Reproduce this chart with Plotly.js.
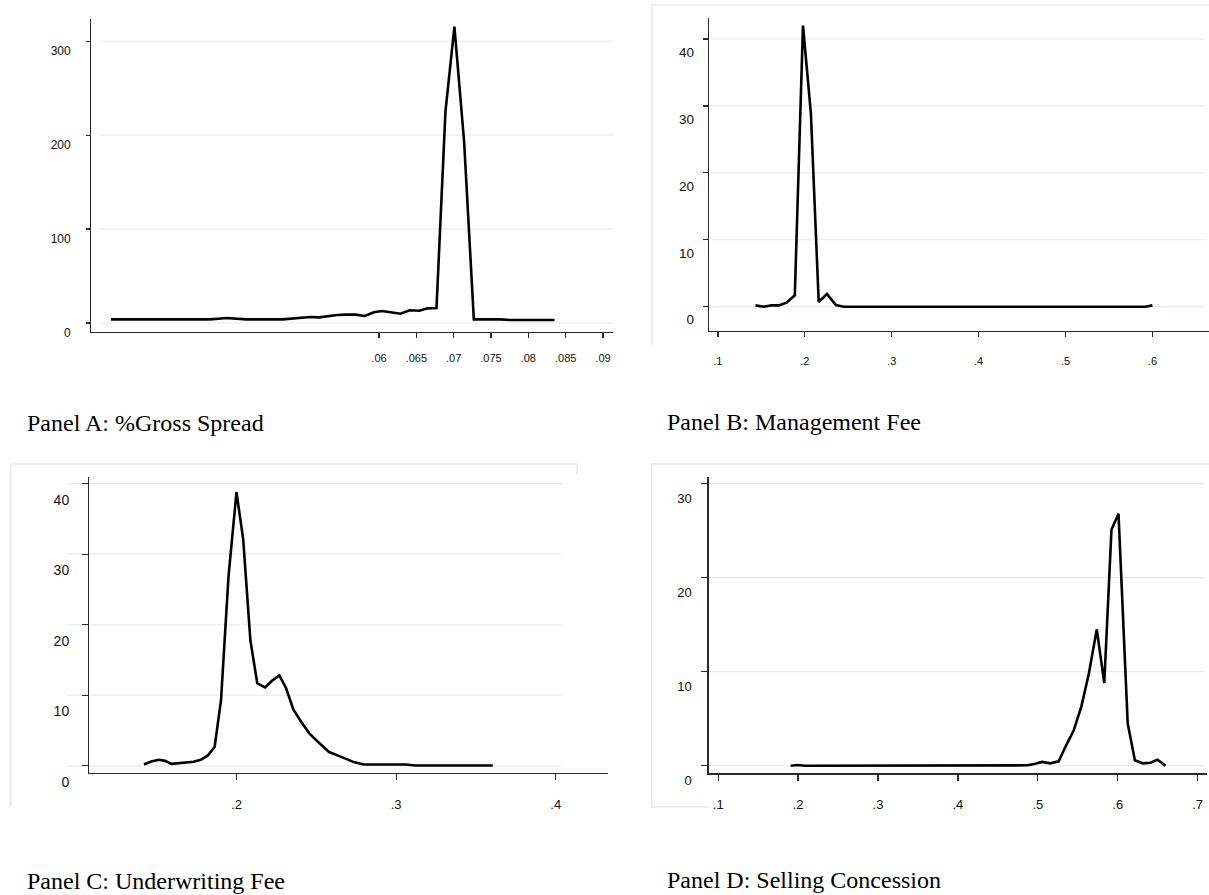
<!DOCTYPE html>
<html>
<head>
<meta charset="utf-8">
<script src="https://cdn.plot.ly/plotly-3.0.1.min.js"></script>
<style>
html,body{margin:0;padding:0;background:#fff;}
#chart{width:1209px;height:895px;}
</style>
</head>
<body>
<div id="chart"></div>
<script>
// ---------- data ----------
// Panel A: %Gross Spread
const spreadX = [0.0241, 0.0374, 0.0396, 0.0422, 0.0471, 0.0483, 0.0495, 0.0508, 0.0520, 0.0544, 0.0556, 0.0569, 0.0581, 0.0593, 0.0604, 0.0617, 0.0629, 0.0641, 0.0654, 0.0665, 0.0677, 0.0689, 0.0701, 0.0714, 0.0727, 0.0763, 0.0775, 0.0835];
const spreadY = [3.9, 3.9, 5.3, 3.9, 3.9, 4.6, 6.0, 6.4, 6.0, 8.5, 8.9, 8.9, 7.5, 11.4, 12.8, 11.4, 9.9, 13.5, 13.1, 15.6, 16.0, 225, 315.6, 193, 3.9, 3.9, 3.2, 3.2];
const spreadXTicks = [0.06, 0.065, 0.07, 0.075, 0.08, 0.085, 0.09];
const spreadXLabels = [".06", ".065", ".07", ".075", ".08", ".085", ".09"];
const spreadYTicks = [0, 100, 200, 300];
const spreadYLabels = ["0", "100", "200", "300"];

// Panel B: Management Fee
const mgmtX = [0.1432, 0.1527, 0.1617, 0.1700, 0.1790, 0.1885, 0.1979, 0.2070, 0.2160, 0.2255, 0.2358, 0.2449, 0.5918, 0.6000];
const mgmtY = [0.2, 0.0, 0.2, 0.2, 0.6, 1.7, 42.0, 28.9, 0.7, 1.9, 0.25, 0.0, 0.0, 0.2];
const mgmtXTicks = [0.1, 0.2, 0.3, 0.4, 0.5, 0.6];
const mgmtXLabels = [".1", ".2", ".3", ".4", ".5", ".6"];
const mgmtYTicks = [0, 10, 20, 30, 40];
const mgmtYLabels = ["0", "10", "20", "30", "40"];

// Panel C: Underwriting Fee
const uwX = [0.1420, 0.1465, 0.1514, 0.1552, 0.1594, 0.1664, 0.1731, 0.1776, 0.1821, 0.1863, 0.1903, 0.1950, 0.2000, 0.2042, 0.2087, 0.2130, 0.2179, 0.2224, 0.2269, 0.2311, 0.2356, 0.2406, 0.2456, 0.2511, 0.2580, 0.2660, 0.2735, 0.2797, 0.2909, 0.2984, 0.3059, 0.3121, 0.3171, 0.3208, 0.3606];
const uwY = [0.19, 0.62, 0.85, 0.7, 0.28, 0.43, 0.57, 0.85, 1.47, 2.66, 9.3, 26.9, 38.8, 32.1, 17.8, 11.7, 11.1, 12.1, 12.8, 11.0, 8.0, 6.2, 4.6, 3.4, 1.95, 1.23, 0.52, 0.19, 0.19, 0.28, 0.19, 0.05, 0.1, 0.05, 0.05];
const uwXTicks = [0.2, 0.3, 0.4];
const uwXLabels = [".2", ".3", ".4"];
const uwYTicks = [0, 10, 20, 30, 40];
const uwYLabels = ["0", "10", "20", "30", "40"];

// Panel D: Selling Concession
const scX = [0.1907, 0.1992, 0.2086, 0.4779, 0.4873, 0.4968, 0.5053, 0.5157, 0.5261, 0.5355, 0.5450, 0.5544, 0.5639, 0.5738, 0.5832, 0.5922, 0.6010, 0.6125, 0.6215, 0.6314, 0.6409, 0.6498, 0.6598];
const scY = [0.0, 0.07, 0.0, 0.0, 0.04, 0.2, 0.4, 0.25, 0.46, 2.17, 3.77, 6.26, 9.8, 14.5, 8.8, 25.1, 26.8, 4.5, 0.57, 0.25, 0.32, 0.64, 0.0];
const scXTicks = [0.1, 0.2, 0.3, 0.4, 0.5, 0.6, 0.7];
const scXLabels = [".1", ".2", ".3", ".4", ".5", ".6", ".7"];
const scYTicks = [0, 10, 20, 30];
const scYLabels = ["0", "10", "20", "30"];

const captions = ["Panel A: %Gross Spread", "Panel B: Management Fee", "Panel C: Underwriting Fee", "Panel D: Selling Concession"];

// ---------- layout helpers ----------
const W = 1209, H = 895;
const fx = p => p / W;
const fy = p => 1 - p / H;
const SANS = "Liberation Sans, Arial, sans-serif";
const SERIF = "Liberation Serif, Times New Roman, serif";
const GRID = "#e4ecec";
const FRAME = "#e6eaea";
const AX = "#2a2a2a";

const lineStyle = {color: "#000", width: 2.6};

const traces = [
  {x: spreadX, y: spreadY, xaxis: "x", yaxis: "y", type: "scatter", mode: "lines", line: lineStyle, hoverinfo: "skip"},
  {x: mgmtX, y: mgmtY, xaxis: "x2", yaxis: "y2", type: "scatter", mode: "lines", line: lineStyle, hoverinfo: "skip"},
  {x: uwX, y: uwY, xaxis: "x3", yaxis: "y3", type: "scatter", mode: "lines", line: lineStyle, hoverinfo: "skip"},
  {x: scX, y: scY, xaxis: "x4", yaxis: "y4", type: "scatter", mode: "lines", line: lineStyle, hoverinfo: "skip"}
];

function xax(dom, range, vals, labels, anchor, size, standoff, ticklen) {
  return {
    domain: [fx(dom[0]), fx(dom[1])], range: range, anchor: anchor,
    tickmode: "array", tickvals: vals, ticktext: labels,
    showline: true, linecolor: AX, linewidth: 1.3,
    ticks: "outside", ticklen: ticklen, tickwidth: 1.2, tickcolor: AX,
    showgrid: false, zeroline: false,
    tickfont: {family: SANS, size: size, color: "#111"},
    ticklabelstandoff: standoff, fixedrange: true
  };
}
function yax(dom, range, vals, labels, anchor, size, standoff, shift, ticklen) {
  return {
    domain: [fy(dom[1]), fy(dom[0])], range: range, anchor: anchor,
    tickmode: "array", tickvals: vals, ticktext: labels,
    showline: true, linecolor: AX, linewidth: 1.3,
    ticks: "outside", ticklen: ticklen, tickwidth: 1.2, tickcolor: AX,
    showgrid: false, zeroline: false,
    tickfont: {family: SANS, size: size, color: "#111"},
    ticklabelstandoff: standoff, ticklabelshift: shift, fixedrange: true
  };
}

const shapes = [];
function grid(yref, vals, x0, x1) {
  vals.forEach(v => shapes.push({type: "line", xref: "paper", yref: yref, x0: fx(x0), x1: fx(x1), y0: v, y1: v,
    line: {color: GRID, width: 1.2}, layer: "below"}));
}
function seg(x0, y0, x1, y1) {
  shapes.push({type: "line", xref: "paper", yref: "paper", x0: fx(x0), x1: fx(x1), y0: fy(y0), y1: fy(y1),
    line: {color: FRAME, width: 1.5}, layer: "below"});
}
grid("y", spreadYTicks, 100, 613);
grid("y2", mgmtYTicks, 711, 1205);
grid("y3", uwYTicks, 67, 563);
grid("y4", scYTicks, 709, 1204);
// light frames around panels B, C, D
seg(652, 5, 1209, 5); seg(652, 5, 652, 345);
seg(10.7, 464, 577, 464); seg(10.7, 464, 10.7, 807); seg(577, 464, 577, 475);
seg(651.7, 464, 1209, 464); seg(651.7, 464, 651.7, 807); seg(651.7, 807, 708.7, 807);

const capPos = [[24.6, 423], [665, 422], [24.6, 881], [665, 880]];
const annotations = captions.map((t, i) => ({
  text: t, xref: "paper", yref: "paper", x: fx(capPos[i][0]), y: fy(capPos[i][1]),
  xanchor: "left", yanchor: "middle", showarrow: false,
  font: {family: SERIF, size: 24, color: "#000"}
}));

const layout = {
  width: W, height: H, margin: {l: 0, r: 0, t: 0, b: 0},
  paper_bgcolor: "#fff", plot_bgcolor: "rgba(0,0,0,0)", showlegend: false,
  xaxis:  xax([91.4, 613], [0.02148, 0.09134], spreadXTicks, spreadXLabels, "y", 11, 11, 5),
  yaxis:  yax([19, 331.7], [-9.27, 323.7], spreadYTicks, spreadYLabels, "x", 12, 13, 10, 4),
  xaxis2: xax([709, 1209], [0.08976, 0.6651], mgmtXTicks, mgmtXLabels, "y2", 11, 14, 5),
  yaxis2: yax([18.3, 331], [-3.63, 43.09], mgmtYTicks, mgmtYLabels, "x2", 13.5, 6, 13, 5),
  xaxis3: xax([89.3, 608], [0.10777, 0.43277], uwXTicks, uwXLabels, "y3", 13, 13, 6),
  yaxis3: yax([476.7, 772.7], [-0.978, 40.99], uwYTicks, uwYLabels, "x3", 14, 10, 16, 6),
  xaxis4: xax([708.7, 1207], [0.08811, 0.71176], scXTicks, scXLabels, "y4", 13, 13, 6),
  yaxis4: yax([476.7, 773.3], [-0.809, 30.74], scYTicks, scYLabels, "x4", 13, 7, 15, 6),
  shapes: shapes,
  annotations: annotations
};

Plotly.newPlot("chart", traces, layout, {staticPlot: true, displayModeBar: false});
</script>
</body>
</html>
